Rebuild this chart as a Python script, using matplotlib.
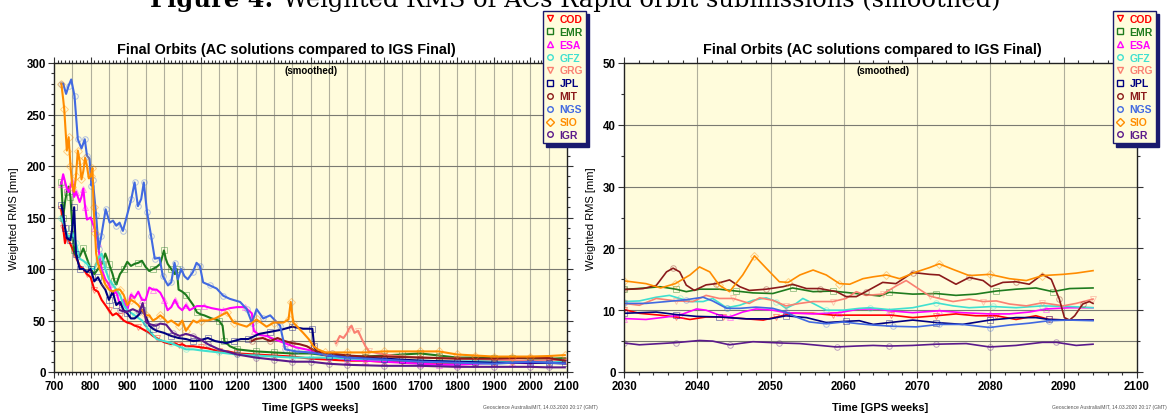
import matplotlib
matplotlib.use("Agg")
import matplotlib.pyplot as plt
from matplotlib.lines import Line2D
from matplotlib.ticker import MultipleLocator
import numpy as np

plt.rcParams['font.family'] = ['Liberation Sans', 'DejaVu Sans']

# ---------------- data ----------------
centers = ["COD", "EMR", "ESA", "GFZ", "GRG", "JPL", "MIT", "NGS", "SIO", "IGR"]
colors = ["#ff0000", "#1e7b1e", "#ff00ff", "#40e0d0", "#fa8072",
          "#000080", "#8b1a1a", "#4169e1", "#ff8c00", "#5b1a8b"]
markers = ["v", "s", "^", "o", "v", "s", "o", "o", "D", "o"]

# left panel (full history)
cod_l_w = [720, 725, 730, 735, 740, 750, 760, 770, 780, 790, 800, 810, 820, 830, 840, 850, 860, 870, 880, 890, 900, 910, 920, 930, 940, 950, 960, 970, 980, 990, 1000, 1010, 1020, 1030, 1040, 1050, 1060, 1080, 1100, 1120, 1150, 1175, 1200, 1250, 1300, 1350, 1400, 1450, 1500, 1550, 1600, 1650, 1700, 1750, 1800, 1850, 1900, 1950, 2000, 2050, 2094]
cod_l_v = [158, 140, 125, 132, 128, 120, 112, 103, 100, 95, 92, 80, 78, 70, 65, 60, 55, 57, 54, 50, 48, 47, 45, 44, 42, 40, 38, 35, 33, 31, 29, 28, 27, 28, 26, 27, 25, 25, 24, 23, 20, 20, 18, 17, 16, 15, 13, 12, 11, 11, 10, 10, 9, 9, 9, 9, 9, 9, 9.5, 9.2, 9]

emr_l_w = [720, 725, 730, 735, 740, 745, 750, 755, 760, 770, 780, 790, 800, 810, 820, 830, 840, 845, 850, 860, 865, 870, 880, 890, 900, 910, 920, 930, 940, 950, 960, 970, 980, 990, 1000, 1005, 1010, 1020, 1030, 1035, 1040, 1050, 1060, 1070, 1080, 1090, 1100, 1110, 1130, 1150, 1160, 1165, 1180, 1200, 1250, 1300, 1350, 1400, 1450, 1500, 1550, 1600, 1650, 1700, 1750, 1800, 1850, 1900, 1950, 2000, 2050, 2094]
emr_l_v = [184, 150, 165, 175, 180, 170, 140, 118, 113, 112, 120, 110, 100, 95, 100, 105, 115, 110, 105, 95, 88, 85, 95, 100, 107, 103, 105, 106, 108, 102, 98, 100, 102, 105, 118, 110, 105, 100, 95, 100, 80, 78, 75, 70, 65, 58, 56, 55, 52, 50, 45, 30, 25, 22, 20, 19, 18, 18, 16, 15, 15, 16, 17, 18, 16, 14, 14, 14, 14, 13, 12.8, 13.5]

esa_l_w = [720, 725, 730, 735, 740, 745, 750, 755, 760, 770, 775, 780, 785, 790, 800, 810, 815, 820, 825, 830, 840, 850, 860, 870, 880, 890, 900, 910, 920, 930, 940, 950, 960, 970, 980, 990, 1000, 1010, 1020, 1030, 1040, 1050, 1060, 1070, 1080, 1090, 1110, 1130, 1160, 1180, 1200, 1220, 1240, 1245, 1260, 1280, 1300, 1330, 1360, 1400, 1450, 1500, 1550, 1600, 1650, 1700, 1750, 1800, 1850, 1900, 1950, 2000, 2050, 2094]
esa_l_v = [183, 192, 185, 178, 175, 180, 185, 170, 175, 165, 170, 178, 160, 148, 150, 140, 135, 125, 110, 100, 90, 85, 75, 78, 65, 70, 60, 75, 72, 78, 70, 70, 82, 80, 80, 77, 70, 60, 63, 70, 63, 60, 65, 60, 62, 64, 64, 62, 60, 62, 63, 63, 57, 40, 36, 35, 32, 28, 24, 21, 15, 12, 11, 10, 9, 8, 7, 7, 8, 9, 9, 8.5, 10, 10.4]

gfz_l_w = [720, 725, 730, 740, 750, 760, 770, 780, 790, 800, 810, 820, 830, 840, 850, 860, 870, 880, 890, 900, 920, 940, 960, 980, 1000, 1020, 1040, 1060, 1080, 1100, 1150, 1200, 1250, 1300, 1350, 1400, 1450, 1500, 1600, 1700, 1800, 1900, 2000, 2050, 2094]
gfz_l_v = [150, 145, 140, 130, 135, 125, 110, 108, 105, 100, 100, 110, 115, 100, 90, 85, 80, 75, 65, 60, 55, 50, 40, 32, 30, 28, 25, 22, 22, 21, 19, 17, 16, 15, 14, 14, 14, 13, 12, 11, 10, 11, 10, 11, 10.5]

grg_l_w = [1470, 1480, 1490, 1500, 1505, 1512, 1520, 1530, 1540, 1550, 1560, 1600, 1650, 1700, 1750, 1800, 1850, 1900, 1950, 2000, 2050, 2094]
grg_l_v = [28, 35, 33, 38, 42, 45, 38, 40, 32, 25, 20, 17, 15, 14, 13.5, 13, 12.5, 12, 11.5, 11, 11.5, 11.8]

jpl_l_w = [720, 725, 730, 735, 740, 745, 750, 755, 760, 770, 780, 790, 800, 810, 820, 830, 840, 850, 860, 870, 880, 890, 900, 910, 920, 930, 940, 950, 960, 970, 980, 1000, 1020, 1040, 1060, 1080, 1100, 1120, 1140, 1170, 1190, 1210, 1230, 1260, 1290, 1320, 1350, 1380, 1405, 1410, 1418, 1450, 1500, 1550, 1600, 1650, 1700, 1750, 1800, 1850, 1900, 1950, 2000, 2050, 2094]
jpl_l_v = [162, 155, 140, 130, 129, 128, 140, 160, 115, 100, 100, 97, 100, 88, 92, 85, 80, 70, 78, 65, 68, 60, 57, 52, 52, 55, 60, 55, 45, 42, 40, 38, 35, 33, 32, 30, 31, 33, 30, 28, 30, 32, 32, 37, 39, 41, 44, 42, 42, 25, 18, 16, 15, 14, 13, 12, 11, 10.5, 10, 9.5, 9, 9, 9, 8.8, 8.4]

mit_l_w = [1240, 1250, 1270, 1290, 1310, 1330, 1350, 1370, 1390, 1410, 1430, 1460, 1500, 1550, 1600, 1700, 1800, 1900, 2000, 2050, 2094]
mit_l_v = [30, 32, 33, 30, 33, 30, 28, 27, 25, 21, 19, 18, 16, 15, 15, 14, 13, 13, 14, 13.5, 11]

ngs_l_w = [720, 725, 733, 740, 747, 756, 765, 775, 784, 790, 797, 802, 806, 815, 822, 829, 841, 852, 861, 870, 879, 888, 897, 911, 920, 929, 938, 945, 954, 965, 975, 988, 997, 1011, 1020, 1029, 1038, 1047, 1056, 1065, 1079, 1089, 1098, 1107, 1126, 1144, 1162, 1180, 1208, 1226, 1240, 1253, 1271, 1290, 1317, 1331, 1360, 1400, 1450, 1500, 1600, 1700, 1800, 1900, 2000, 2050, 2094]
ngs_l_v = [280, 280, 270, 278, 284, 268, 226, 217, 226, 210, 207, 181, 186, 152, 119, 132, 158, 145, 147, 142, 145, 137, 149, 168, 184, 161, 168, 184, 155, 132, 110, 111, 93, 84, 87, 106, 90, 100, 93, 90, 97, 106, 103, 87, 84, 81, 74, 71, 68, 61, 48, 61, 52, 55, 45, 22, 20, 19, 16, 14, 12, 10, 9, 8, 10, 9, 8.3]

sio_l_w = [720, 725, 728, 735, 740, 745, 750, 755, 760, 765, 770, 775, 780, 785, 790, 795, 800, 805, 808, 812, 815, 820, 830, 840, 850, 860, 870, 880, 890, 900, 910, 920, 930, 940, 950, 960, 970, 980, 990, 1000, 1010, 1020, 1040, 1050, 1060, 1070, 1080, 1090, 1100, 1120, 1140, 1172, 1190, 1226, 1253, 1280, 1300, 1326, 1340, 1346, 1353, 1380, 1395, 1408, 1420, 1440, 1500, 1550, 1600, 1650, 1700, 1750, 1800, 1850, 1900, 1950, 2000, 2050, 2094]
sio_l_v = [280, 265, 255, 215, 228, 200, 180, 175, 190, 215, 205, 187, 195, 208, 200, 188, 190, 198, 160, 135, 115, 105, 95, 85, 80, 78, 80, 80, 75, 65, 70, 68, 65, 60, 55, 55, 50, 52, 55, 52, 48, 50, 45, 50, 40, 45, 50, 48, 50, 50, 52, 58, 48, 44, 51, 44, 48, 48, 51, 68, 48, 38, 32, 25, 22, 19, 19, 19, 20, 20, 20, 20, 17, 16, 15, 15, 15, 15.5, 16.4]

igr_l_w = [880, 897, 915, 933, 942, 952, 965, 979, 990, 1006, 1024, 1043, 1060, 1080, 1098, 1120, 1150, 1200, 1250, 1300, 1350, 1400, 1450, 1500, 1600, 1700, 1800, 1900, 2000, 2050, 2094]
igr_l_v = [60, 58, 61, 58, 67, 48, 46, 45, 47, 46, 38, 35, 37, 35, 32, 27, 22, 17, 14, 12, 10, 10, 8, 7, 6, 6, 5, 5, 5, 4.5, 4.5]

# right panel (recent weeks)
cod_r_w = [2030, 2032.1, 2034.9, 2037.1, 2039, 2041.2, 2043.5, 2046.7, 2049, 2050.8, 2053, 2055.8, 2058.5, 2061.7, 2064.5, 2066.5, 2069.4, 2072.6, 2075.3, 2078, 2080.8, 2083.5, 2086.2, 2088, 2090.8, 2094]
cod_r_v = [10.1, 9.5, 9.2, 8.9, 8.5, 8.9, 8.9, 8.6, 8.4, 8.9, 9.5, 9.5, 9.2, 9.2, 9.2, 9.2, 8.8, 9.1, 9.4, 9.1, 9.1, 8.5, 9.1, 8.5, 8.4, 8.4]

emr_r_w = [2030, 2033, 2034.9, 2037.1, 2038.5, 2040.3, 2043, 2045.3, 2047.6, 2050.3, 2053, 2055.8, 2058.5, 2061.7, 2064.9, 2066.2, 2069.4, 2072.6, 2075.3, 2078, 2080.8, 2083.5, 2086.2, 2088.5, 2090.8, 2094]
emr_r_v = [13.35, 13.6, 13.8, 13.4, 13.0, 13.4, 13.4, 13.1, 12.8, 12.7, 13.6, 13.0, 13.1, 12.7, 12.3, 12.9, 12.6, 12.7, 12.4, 12.6, 13.1, 13.4, 13.6, 13.0, 13.5, 13.6]

esa_r_w = [2030, 2033, 2035.8, 2037.6, 2039.9, 2041.2, 2043, 2044.4, 2046.2, 2048, 2050.3, 2052.1, 2055.8, 2059.4, 2062.1, 2064.5, 2066.2, 2069.4, 2073, 2076.2, 2079.9, 2082.6, 2085.3, 2087.6, 2090.8, 2094]
esa_r_v = [8.65, 8.5, 8.9, 9.2, 10.2, 10.0, 9.2, 8.9, 9.7, 10.2, 10.0, 9.6, 9.4, 9.6, 10.2, 10.2, 9.9, 9.6, 9.9, 9.6, 9.4, 9.4, 9.7, 10.2, 10.4, 10.4]

gfz_r_w = [2030, 2032.1, 2034.4, 2036.2, 2037.6, 2039, 2040.8, 2042.1, 2044, 2045.8, 2047.6, 2049.4, 2050.8, 2052.1, 2053.5, 2054.4, 2055.8, 2057.6, 2059.9, 2062.1, 2063.5, 2066.2, 2069.4, 2072.6, 2074.9, 2077.1, 2080.3, 2083.5, 2087.1, 2090.8, 2094]
gfz_r_v = [11.4, 11.5, 12.1, 12.4, 11.9, 11.4, 11.4, 11.9, 10.4, 10.8, 11.6, 12.0, 11.4, 10.3, 11.1, 11.9, 11.1, 10.0, 10.0, 10.3, 10.4, 10.1, 10.4, 11.2, 10.7, 10.4, 10.6, 10.4, 10.7, 10.6, 10.4]

grg_r_w = [2030, 2032.1, 2034.4, 2037.1, 2039.4, 2041.2, 2043, 2044.9, 2047.1, 2048.5, 2050.3, 2052.1, 2054, 2055.8, 2058.5, 2060.3, 2061.7, 2063, 2065.3, 2067.1, 2068.5, 2069.9, 2071.7, 2073, 2074.9, 2077.1, 2079, 2080.8, 2082.6, 2084.9, 2087.1, 2089.9, 2091.7, 2094]
grg_r_v = [11.1, 10.8, 11.9, 11.5, 11.4, 12.4, 11.9, 11.9, 11.1, 12.0, 11.6, 10.7, 11.1, 11.4, 11.4, 11.9, 13.0, 12.4, 12.6, 13.9, 14.8, 13.7, 12.3, 11.9, 11.4, 11.8, 11.4, 11.5, 11.0, 10.7, 11.2, 10.7, 11.1, 11.8]

jpl_r_w = [2030, 2034.4, 2037.1, 2039.9, 2043, 2046.7, 2049.9, 2052.1, 2054.9, 2057.6, 2060.3, 2062.1, 2064, 2066.2, 2069.4, 2072.6, 2076.2, 2079.9, 2083.5, 2086.2, 2088, 2090.8, 2094]
jpl_r_v = [9.5, 9.7, 9.3, 9.0, 8.9, 8.6, 8.6, 9.1, 8.8, 8.0, 8.2, 8.3, 7.7, 8.0, 8.4, 8.0, 7.7, 8.4, 8.8, 8.8, 8.5, 8.4, 8.4]

mit_r_w = [2030, 2032.6, 2034.4, 2035.8, 2036.7, 2037.6, 2038.5, 2039.6, 2041.2, 2042.6, 2044.4, 2045.8, 2047.1, 2049.4, 2051.7, 2053, 2054.9, 2056.7, 2059, 2060.3, 2061.7, 2063, 2065.3, 2067.1, 2069.4, 2071.7, 2073, 2075.3, 2077.1, 2079, 2080.1, 2081.7, 2083.5, 2085.3, 2087.1, 2088.3, 2089.4, 2090.1, 2090.8, 2091.5, 2092.6, 2093.5, 2094]
mit_r_v = [13.35, 13.5, 14.0, 16.2, 16.8, 16.2, 14.05, 13.2, 14.1, 14.3, 14.9, 13.8, 13.2, 13.4, 13.8, 14.2, 13.5, 13.5, 13.0, 12.2, 12.2, 13.0, 14.5, 14.3, 16.1, 15.8, 15.7, 14.2, 15.3, 14.8, 13.8, 14.5, 14.6, 14.2, 15.8, 15.0, 11.8, 8.8, 8.4, 9.1, 11.0, 11.4, 11.1]

ngs_r_w = [2030, 2033, 2035.8, 2038.5, 2040.8, 2042.1, 2044, 2045.8, 2048, 2050.3, 2052.1, 2053.5, 2055.3, 2057.6, 2059.9, 2062.1, 2064, 2066.7, 2069.9, 2073, 2076.2, 2079.9, 2082.6, 2085.3, 2088, 2090.8, 2094]
ngs_r_v = [11.1, 11.1, 11.4, 11.7, 12.1, 11.5, 10.3, 10.3, 10.5, 10.3, 9.7, 8.9, 8.1, 7.8, 8.1, 7.8, 7.6, 7.4, 7.3, 7.7, 7.7, 7.2, 7.6, 7.9, 8.3, 8.4, 8.3]

sio_r_w = [2030, 2033, 2035, 2037, 2039, 2040.3, 2041.7, 2043, 2044.4, 2046.2, 2047.8, 2049.4, 2051.2, 2052.4, 2054, 2055.8, 2057.6, 2059.4, 2060.8, 2062.6, 2064, 2065.8, 2067.6, 2069.9, 2071.7, 2073, 2074.9, 2077.1, 2079.9, 2082.6, 2084.9, 2087.1, 2089.9, 2091.7, 2094]
sio_r_v = [14.75, 14.3, 13.6, 14.3, 15.7, 17.0, 16.2, 14.05, 13.0, 15.7, 18.8, 16.8, 14.6, 14.5, 15.7, 16.5, 15.7, 14.3, 14.2, 15.1, 15.4, 15.7, 15.1, 16.2, 16.9, 17.5, 16.6, 15.6, 15.8, 15.1, 14.8, 15.6, 15.8, 16.0, 16.4]

igr_r_w = [2030, 2032.1, 2037.1, 2040.3, 2042.1, 2044.4, 2047.6, 2051.2, 2054, 2056.7, 2059, 2061.7, 2064, 2066.2, 2069.4, 2072.6, 2076.7, 2079.9, 2083.5, 2087.1, 2089, 2091.7, 2094]
igr_r_v = [4.7, 4.4, 4.75, 5.1, 5.0, 4.4, 4.9, 4.7, 4.6, 4.3, 4.05, 4.2, 4.3, 4.2, 4.3, 4.5, 4.6, 4.05, 4.3, 4.8, 4.8, 4.3, 4.5]

left_series = [(cod_l_w, cod_l_v), (emr_l_w, emr_l_v), (esa_l_w, esa_l_v), (gfz_l_w, gfz_l_v),
               (grg_l_w, grg_l_v), (jpl_l_w, jpl_l_v), (mit_l_w, mit_l_v), (ngs_l_w, ngs_l_v),
               (sio_l_w, sio_l_v), (igr_l_w, igr_l_v)]
right_series = [(cod_r_w, cod_r_v), (emr_r_w, emr_r_v), (esa_r_w, esa_r_v), (gfz_r_w, gfz_r_v),
                (grg_r_w, grg_r_v), (jpl_r_w, jpl_r_v), (mit_r_w, mit_r_v), (ngs_r_w, ngs_r_v),
                (sio_r_w, sio_r_v), (igr_r_w, igr_r_v)]

title_text = "Final Orbits (AC solutions compared to IGS Final)"
caption_head = "Figure 4:"
caption = "Weighted RMS of ACs Rapid orbit submissions (smoothed)"
footer = "Geoscience Australia/MIT, 14.03.2020 20:17 (GMT)"

# ---------------- figure ----------------
W, H = 1169, 414
fig = plt.figure(figsize=(W / 100, H / 100), dpi=100)
bg = "#fffcdc"


def fx(px):
    return px / W


def fy(py):
    return 1 - py / H


axL = fig.add_axes([fx(54), fy(373), fx(567) - fx(54), fy(64) - fy(373)])
axR = fig.add_axes([fx(624), fy(373), fx(1137) - fx(624), fy(64) - fy(373)])


def style(ax, xlim, ylim, xmaj, xmin, ymaj, ymin, xgrid, ygrid, extra_h):
    ax.set_facecolor(bg)
    ax.set_xlim(*xlim)
    ax.set_ylim(*ylim)
    ax.xaxis.set_major_locator(MultipleLocator(xmaj))
    ax.xaxis.set_minor_locator(MultipleLocator(xmin))
    ax.yaxis.set_major_locator(MultipleLocator(ymaj))
    ax.yaxis.set_minor_locator(MultipleLocator(ymin))
    ax.tick_params(which="both", direction="out", top=True, right=True, width=0.8, color="#333333")
    ax.tick_params(which="major", length=4, labelsize=8.3, pad=2)
    ax.tick_params(which="minor", length=2)
    for lab in ax.get_xticklabels() + ax.get_yticklabels():
        lab.set_fontweight("bold")
    for s in ax.spines.values():
        s.set_linewidth(1.0)
        s.set_color("#222222")
    for gx in np.arange(xlim[0] + xgrid, xlim[1], xgrid):
        ax.axvline(gx, color="#b0af9c", lw=0.8, zorder=0.5)
    for gy in np.arange(ylim[0] + ygrid, ylim[1], ygrid):
        ax.axhline(gy, color="#7a7a72", lw=0.8, zorder=0.5)
    ax.axhline(extra_h, color="#7a7a72", lw=0.8, zorder=0.5)
    ax.set_xlabel("Time [GPS weeks]", fontsize=8, fontweight="bold", labelpad=7)
    ax.set_ylabel("Weighted RMS [mm]", fontsize=8, labelpad=5)


style(axL, (700, 2100), (0, 300), 100, 10, 50, 10, 50, 50, 30)
style(axR, (2030, 2100), (0, 50), 10, 2, 10, 5, 10, 10, 5)

for (w, v), c, m in zip(left_series, colors, markers):
    axL.plot(w, v, color=c, lw=1.5, zorder=2)
    axL.plot(w, v, ls="none", marker=m, ms=4, mfc="none", mec=c, mew=0.7, alpha=0.4,
             markevery=0.035, zorder=2)

for (w, v), c, m in zip(right_series, colors, markers):
    axR.plot(w, v, color=c, lw=1.2, zorder=2)
    axR.plot(w, v, ls="none", marker=m, ms=4, mfc="none", mec=c, mew=0.7, alpha=0.4,
             markevery=0.09, zorder=2)

# titles
fig.text(fx(286), fy(50), title_text, ha="center", va="center", fontsize=10.4, fontweight="bold")
fig.text(fx(872), fy(50), title_text, ha="center", va="center", fontsize=10.4, fontweight="bold")
fig.text(fx(311), fy(71), "(smoothed)", ha="center", va="center", fontsize=7, fontweight="bold")
fig.text(fx(883), fy(71), "(smoothed)", ha="center", va="center", fontsize=7, fontweight="bold")

# caption (cut at top, as in the source)
t_head = fig.text(fx(150), fy(7), caption_head, ha="left", va="baseline", fontsize=17.4,
                  fontweight="bold", family="DejaVu Serif")
fig.canvas.draw()
bb = t_head.get_window_extent(renderer=fig.canvas.get_renderer())
fig.text((bb.x1 + 10) / W, fy(7), caption, ha="left", va="baseline", fontsize=17.4,
         family="DejaVu Serif")

# footers
fig.text(fx(598), fy(408), footer, ha="right", va="center", fontsize=3.6, color="#555555")
fig.text(fx(1167), fy(408), footer, ha="right", va="center", fontsize=3.6, color="#555555")

# legends
handles = [Line2D([], [], ls="none", marker=m, ms=4, mfc="none", mec=c, mew=1.0)
           for c, m in zip(colors, markers)]
for x0 in (542.7, 1112.7):
    leg = fig.legend(handles, centers, loc="upper left", bbox_to_anchor=(fx(x0), fy(11.7)),
                     fontsize=7.5, frameon=True, fancybox=False, facecolor=bg,
                     edgecolor="#1a1a6e", framealpha=1,
                     shadow={"color": "#1a1a6e", "alpha": 1, "ox": 2.5, "oy": -2.5},
                     borderpad=0.3, labelspacing=0.28, handlelength=0.8, handletextpad=0.5,
                     borderaxespad=0)
    leg.get_frame().set_linewidth(1.0)
    for t, c in zip(leg.get_texts(), colors):
        t.set_color(c)
        t.set_fontweight("bold")

fig.savefig("out.png", dpi=100)
